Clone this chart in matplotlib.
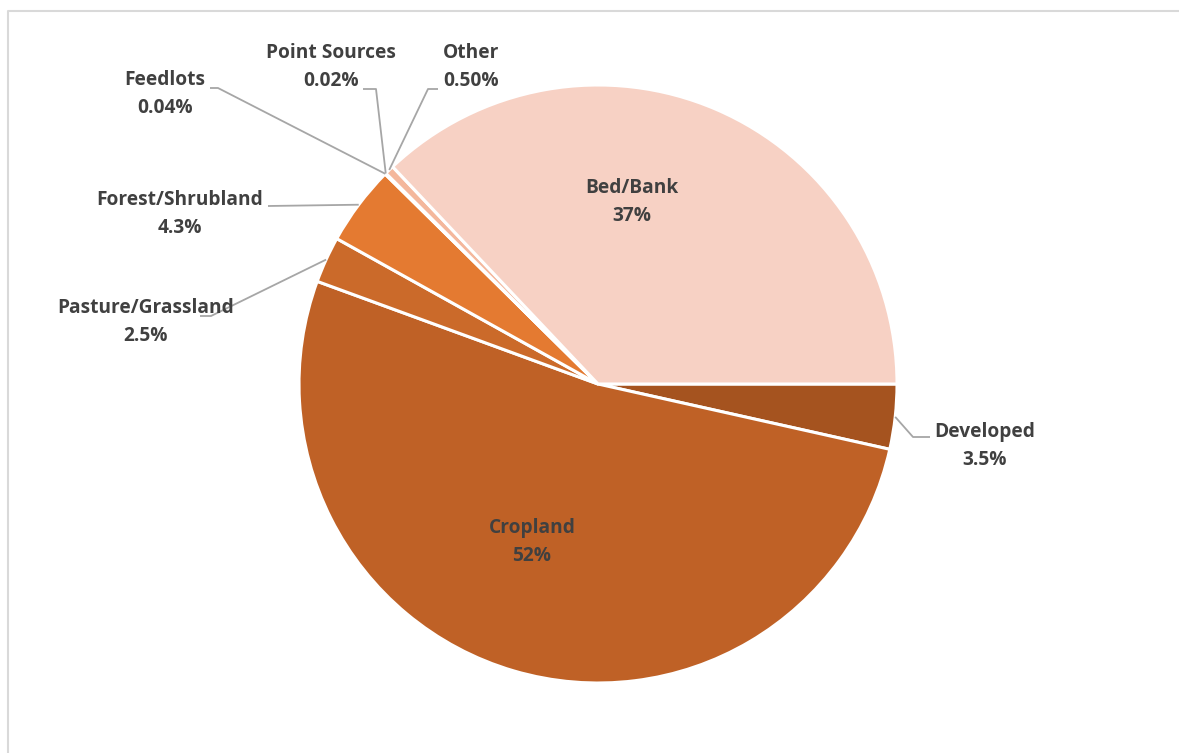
import matplotlib
matplotlib.use("Agg")
import matplotlib.pyplot as plt
import numpy as np

# sediment sources, in the order the wedges are drawn (clockwise from 3 o'clock)
sources = ["Developed", "Cropland", "Pasture/Grassland", "Forest/Shrubland",
           "Feedlots", "Point Sources", "Other", "Bed/Bank"]
shares = [3.5, 52, 2.5, 4.3, 0.04, 0.02, 0.50, 37]
share_text = ["3.5%", "52%", "2.5%", "4.3%", "0.04%", "0.02%", "0.50%", "37%"]

colors = ["#A5531F", "#BF6126", "#CB6A2A", "#E47A31",
          "#D9773A", "#E8956A", "#F4B79C", "#F7D1C4"]

W, H = 1179, 753
CX, CY, R = 598, 384, 299      # pie centre / radius in pixels (y from top)

# label anchor (centre of the name line) in pixels, y from top
label_pos = {
    "Developed": (985, 432),
    "Cropland": (532, 528),
    "Pasture/Grassland": (146, 308),
    "Forest/Shrubland": (180, 200),
    "Feedlots": (165, 80),
    "Point Sources": (331, 53),
    "Other": (471, 53),
    "Bed/Bank": (632, 188),
}
# leader line bends (outside end first), y from top
leaders = {
    "Developed": [(930, 437), (913, 437)],
    "Pasture/Grassland": [(200, 316), (211, 316)],
    "Forest/Shrubland": [(268, 206)],
    "Feedlots": [(210, 88), (218, 88)],
    "Point Sources": [(363, 89), (376, 89)],
    "Other": [(438, 89), (428, 89)],
}

plt.rcParams["font.family"] = ["Open Sans", "DejaVu Sans"]
fig = plt.figure(figsize=(W / 100, H / 100), dpi=100)
ax = fig.add_axes([0, 0, 1, 1])

wedges, _ = ax.pie(shares, colors=colors, startangle=0, counterclock=False,
                   center=(CX, H - CY), radius=R,
                   wedgeprops=dict(edgecolor="white", linewidth=2.2))
ax.set_xlim(0, W)
ax.set_ylim(0, H)
ax.set_aspect("equal")
ax.axis("off")

txt = "#404040"
for name, w, pct in zip(sources, wedges, share_text):
    x, y = label_pos[name]
    ax.text(x, H - y, name, ha="center", va="center", fontsize=13.8,
            fontweight="bold", color=txt)
    ax.text(x, H - y - 28, pct, ha="center", va="center", fontsize=13.8,
            fontweight="bold", color=txt)
    if name in leaders:
        mid = np.deg2rad((w.theta1 + w.theta2) / 2)
        ex = CX + R * np.cos(mid)
        ey = (H - CY) + R * np.sin(mid)
        pts = [(px, H - py) for px, py in leaders[name]] + [(ex, ey)]
        xs, ys = zip(*pts)
        ax.plot(xs, ys, color="#A6A6A6", lw=1.3, solid_capstyle="butt")

# chart area border
ax.plot([8, 8, W], [0, H - 11, H - 11], color="#D9D9D9", lw=1.5)

fig.savefig("out.png", dpi=100, facecolor="white")
